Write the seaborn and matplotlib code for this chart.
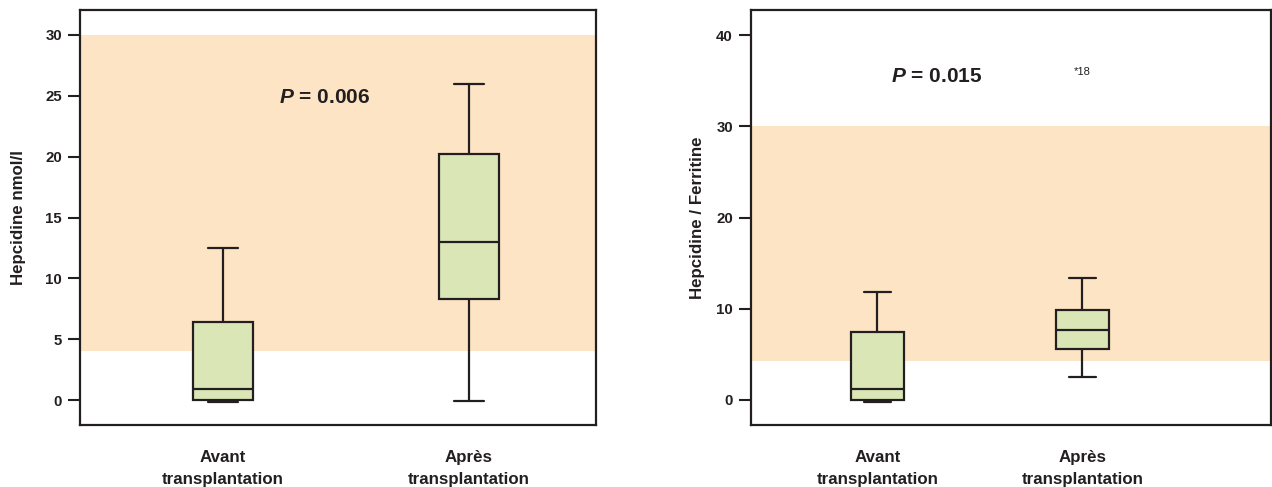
import numpy as np
import pandas as pd
import matplotlib
matplotlib.use("Agg")
import matplotlib.pyplot as plt
import seaborn as sns

# Categories shown on both panels
phases = ["Avant\ntransplantation", "Après\ntransplantation"]

# Five-number summaries (whisker low, Q1, median, Q3, whisker high)
hepcidine_avant = [-0.2, 0.0, 0.9, 6.4, 12.5]
hepcidine_apres = [-0.1, 8.3, 13.0, 20.2, 26.0]
ratio_avant = [-0.2, 0.0, 1.2, 7.4, 11.8]
ratio_apres = [2.5, 5.6, 7.7, 9.9, 13.4]

# Reference ranges (shaded bands)
hepcidine_norm = [4.0, 30.0]
ratio_norm = [4.3, 30.0]

hepcidine_ticks = [0, 5, 10, 15, 20, 25, 30]
ratio_ticks = [0, 10, 20, 30, 40]

p_hepcidine = "0.006"
p_ratio = "0.015"

sns.set_theme(style="white")
plt.rcParams["font.family"] = ["Liberation Sans", "DejaVu Sans"]
plt.rcParams["font.weight"] = "bold"
plt.rcParams["mathtext.fontset"] = "custom"
plt.rcParams["mathtext.it"] = "Liberation Sans:italic:bold"
plt.rcParams["mathtext.rm"] = "Liberation Sans:bold"

INK = "#231f20"
BAND = "#fde4c4"
BOX = "#dbe6b7"


def frame(avant, apres):
    return pd.DataFrame({
        "phase": [phases[0]] * len(avant) + [phases[1]] * len(apres),
        "value": list(avant) + list(apres),
    })


fig = plt.figure(figsize=(12.72, 4.87), dpi=100)
ax1 = fig.add_axes([80 / 1272, 62 / 487, 516 / 1272, 415 / 487])
ax2 = fig.add_axes([751 / 1272, 62 / 487, 520 / 1272, 415 / 487])

panels = [
    (ax1, frame(hepcidine_avant, hepcidine_apres), hepcidine_norm, hepcidine_ticks,
     (-2.05, 32.05), (-0.581, 1.516), 0.245, "Hepcidine nmol/l", 14),
    (ax2, frame(ratio_avant, ratio_apres), ratio_norm, ratio_ticks,
     (-2.74, 42.74), (-0.617, 1.92), 0.26, "Hepcidine / Ferritine", 8),
]

for ax, df, norm, ticks, ylim, xlim, width, ylabel, lpad in panels:
    ax.axhspan(norm[0], norm[1], color=BAND, lw=0, zorder=0)
    sns.boxplot(data=df, x="phase", y="value", order=phases, ax=ax,
                whis=(0, 100), width=width, color=BOX, saturation=1,
                linecolor=INK, linewidth=1.6, showfliers=False)
    ax.set_ylim(*ylim)
    ax.set_xlim(*xlim)
    ax.set_yticks(ticks)
    ax.set_yticklabels([str(t) for t in ticks], fontsize=10.8, fontweight="bold", color=INK)
    ax.set_xticks([0, 1])
    ax.set_xticklabels(phases, fontsize=12.2, fontweight="bold", color=INK, linespacing=1.6)
    ax.tick_params(axis="y", length=9, width=1.5, color=INK, pad=4, left=True)
    ax.tick_params(axis="x", length=0, pad=18)
    ax.set_xlabel("")
    ax.set_ylabel(ylabel, fontsize=12.2, fontweight="bold", color=INK, labelpad=lpad)
    for sp in ax.spines.values():
        sp.set_color(INK)
        sp.set_linewidth(1.6)
        sp.set_visible(True)
    ax.set_facecolor("white")

ax1.text(0.415, 24.9, r"$P$ = " + p_hepcidine, fontsize=15, fontweight="bold",
         color=INK, ha="center", va="center")
ax2.text(0.29, 35.4, r"$P$ = " + p_ratio, fontsize=15, fontweight="bold",
         color=INK, ha="center", va="center")
ax2.text(1.0, 35.9, "*18", fontsize=8, fontweight="normal", color=INK,
         ha="center", va="center")

fig.savefig("out.png", dpi=100)
